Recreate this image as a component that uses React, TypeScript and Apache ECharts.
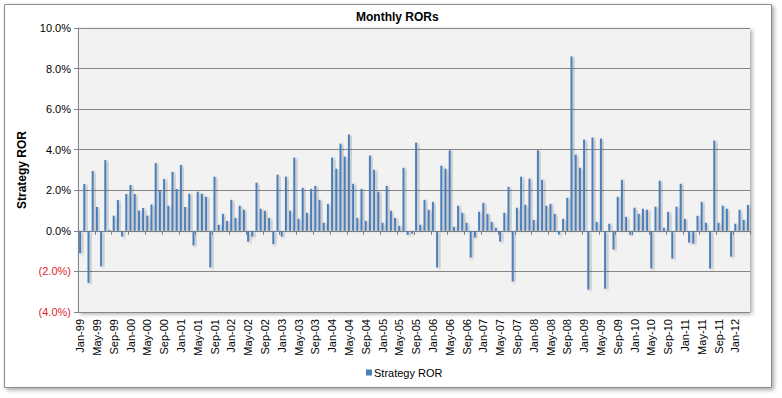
import React, { useEffect, useRef } from "react";
import * as echarts from "echarts";

const MONTHS = ["Jan", "Feb", "Mar", "Apr", "May", "Jun", "Jul", "Aug", "Sep", "Oct", "Nov", "Dec"];
const START_YEAR = 1999;

// Monthly RORs in percent, Jan-99 .. Apr-12
const RORS = [
  -1.10, 2.31, -2.57, 2.95, 1.18, -1.75, 3.49, 0.05, 0.75, 1.52, -0.28, 1.82,
  2.26, 1.82, 1.00, 1.13, 0.75, 1.30, 3.34, 2.02, 2.56, 1.23, 2.91, 2.06,
  3.25, 1.18, 1.83, -0.72, 1.93, 1.83, 1.68, -1.80, 2.67, 0.30, 0.84, 0.49,
  1.53, 0.64, 1.24, 1.04, -0.53, -0.28, 2.37, 1.09, 0.99, 0.64, -0.66, 2.77,
  -0.28, 2.67, 0.99, 3.61, 0.59, 2.12, 0.89, 2.07, 2.22, 1.53, 0.40, 1.33,
  3.61, 3.06, 4.30, 3.66, 4.75, 2.32, 0.64, 2.07, 0.49, 3.71, 3.01, 1.93,
  0.40, 2.22, 0.99, 0.64, 0.25, 3.11, -0.20, -0.14, 4.35, 0.30, 1.53, 1.04,
  1.43, -1.81, 3.21, 3.06, 3.97, 0.20, 1.24, 0.89, 0.40, -1.32, -0.33, 0.94,
  1.38, 0.84, 0.44, 0.15, -0.53, 0.89, 2.17, -2.50, 1.14, 2.67, 1.28, 2.57,
  0.54, 3.97, 2.52, 1.24, 1.33, 0.84, -0.18, 0.59, 1.63, 8.60, 3.76, 3.11,
  4.50, -2.90, 4.60, 0.44, 4.55, -2.85, 0.35, -0.92, 1.68, 2.52, 0.69, -0.20,
  1.14, 0.84, 1.09, 1.04, -1.86, 1.19, 2.47, 0.15, 0.94, -1.37, 1.19, 2.32,
  0.59, -0.58, -0.63, 0.74, 1.43, 0.40, -1.86, 4.45, 0.40, 1.24, 1.09, -1.27,
  0.35, 1.04, 0.54, 1.28,
];

const CATEGORIES = RORS.map(
  (_, i) => `${MONTHS[i % 12]}-${String((START_YEAR + Math.floor(i / 12)) % 100).padStart(2, "0")}`
);

const Y_MIN = -4;
const Y_MAX = 10;
const Y_STEP = 2;
const SERIES_NAME = "Strategy ROR";
const TITLE = "Monthly RORs";

const FONT = "Arial, 'Liberation Sans', sans-serif";
const GRID_COLOR = "#868686";

export default function App() {
  const ref = useRef<HTMLDivElement>(null);

  useEffect(() => {
    if (!ref.current) return;
    const chart = echarts.init(ref.current, null, { renderer: "svg" });
    chart.setOption({
      animation: false,
      backgroundColor: "#ffffff",
      textStyle: { fontFamily: FONT },
      title: {
        text: TITLE,
        left: 356,
        top: 11,
        padding: 0,
        textStyle: { fontSize: 12, fontWeight: "bold", color: "#000", fontFamily: FONT },
      },
      graphic: [
        {
          type: "rect",
          z: -100,
          silent: true,
          shape: { x: 4.5, y: 4.5, width: 767, height: 383 },
          style: {
            fill: "#ffffff",
            stroke: "#8c8c8c",
            lineWidth: 1,
            shadowBlur: 4,
            shadowOffsetX: 2,
            shadowOffsetY: 2,
            shadowColor: "rgba(0,0,0,0.35)",
          },
        },
      ],
      legend: {
        left: 366,
        top: 367,
        icon: "rect",
        itemWidth: 6,
        itemHeight: 6,
        padding: 0,
        textStyle: { fontSize: 11, color: "#000", fontFamily: FONT, padding: [0, 0, 0, -3] },
        data: [SERIES_NAME],
      },
      grid: {
        left: 78,
        right: 32,
        top: 28,
        bottom: 86,
        show: true,
        backgroundColor: "#f2f2f2",
        borderWidth: 0,
        shadowBlur: 4,
        shadowOffsetX: 2,
        shadowOffsetY: 2,
        shadowColor: "rgba(0,0,0,0.35)",
      },
      xAxis: [
        {
          type: "category",
          data: CATEGORIES,
          position: "bottom",
          axisLine: { show: false, onZero: false },
          axisTick: { show: false },
          axisLabel: {
            interval: 3,
            rotate: 90,
            margin: 7,
            fontSize: 11,
            color: "#000",
            fontFamily: FONT,
          },
          splitLine: { show: false },
        },
        {
          type: "category",
          data: CATEGORIES,
          position: "top",
          axisLine: { show: true, onZero: true, lineStyle: { color: GRID_COLOR, width: 1 } },
          axisTick: {
            show: true,
            inside: true,
            length: 4,
            interval: 3,
            lineStyle: { color: GRID_COLOR },
          },
          axisLabel: { show: false },
          splitLine: { show: false },
        },
      ],
      yAxis: {
        type: "value",
        min: Y_MIN,
        max: Y_MAX,
        interval: Y_STEP,
        name: "Strategy ROR",
        nameLocation: "middle",
        nameRotate: 90,
        nameGap: 50,
        nameTextStyle: { fontSize: 12, fontWeight: "bold", color: "#000", fontFamily: FONT },
        axisLine: { show: true, lineStyle: { color: GRID_COLOR } },
        axisTick: { show: true, length: 4, lineStyle: { color: GRID_COLOR } },
        splitLine: { show: true, lineStyle: { color: GRID_COLOR, width: 1 } },
        axisLabel: {
          margin: 7,
          fontSize: 11,
          fontFamily: FONT,
          formatter: (v: number) =>
            v < 0 ? `{neg|(${Math.abs(v).toFixed(1)}%)}` : `{pos|${v.toFixed(1)}%}`,
          rich: {
            pos: { color: "#000", fontSize: 11, fontFamily: FONT },
            neg: { color: "#e3242b", fontSize: 11, fontFamily: FONT },
          },
        },
      },
      series: [
        {
          name: SERIES_NAME,
          type: "bar",
          xAxisIndex: 0,
          data: RORS,
          barWidth: 2,
          itemStyle: {
            color: "#4a7ebb",
            shadowBlur: 3,
            shadowOffsetX: 2,
            shadowOffsetY: 1,
            shadowColor: "rgba(0,0,0,0.3)",
          },
        },
      ],
    });
    return () => chart.dispose();
  }, []);

  return (
    <div
      ref={ref}
      style={{ position: "fixed", left: 0, top: 0, width: 782, height: 398 }}
    />
  );
}
